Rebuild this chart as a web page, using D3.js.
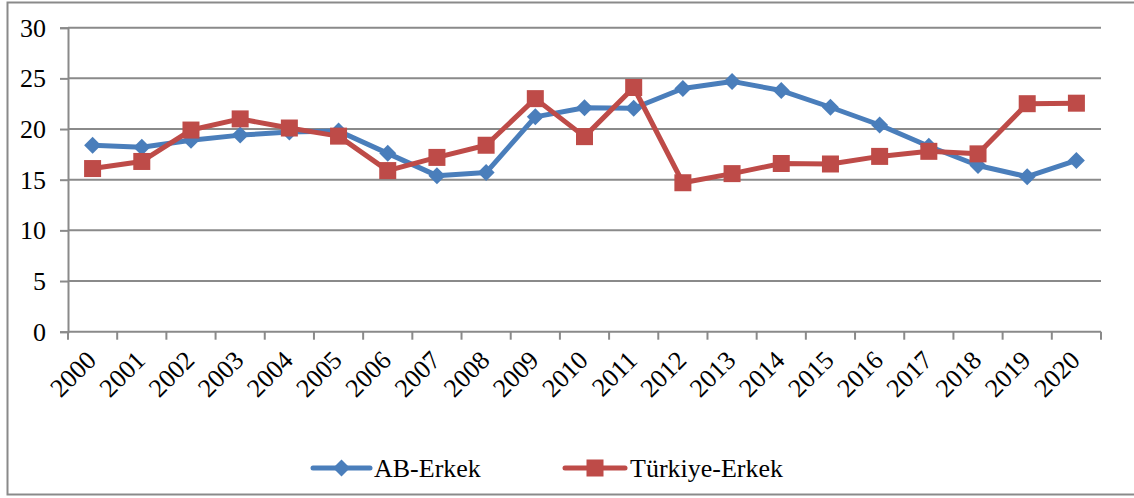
<!DOCTYPE html>
<html>
<head>
<meta charset="utf-8">
<script src="https://cdn.jsdelivr.net/npm/d3@7"></script>
<style>
  html, body { margin: 0; padding: 0; background: #ffffff; }
  svg { display: block; }
  svg text { font-family: "Liberation Serif", "Times New Roman", serif !important; fill: #000; }
</style>
</head>
<body>
<svg id="chart" width="1134" height="498"></svg>
<script>
const years = ["2000","2001","2002","2003","2004","2005","2006","2007","2008","2009","2010",
               "2011","2012","2013","2014","2015","2016","2017","2018","2019","2020"];
const abErkek = [18.4, 18.2, 18.9, 19.4, 19.7, 19.8, 17.6, 15.4, 15.7, 21.2, 22.1,
                 22.05, 24.0, 24.7, 23.8, 22.15, 20.4, 18.3, 16.4, 15.3, 16.9];
const trErkek = [16.1, 16.8, 19.9, 21.0, 20.1, 19.3, 15.9, 17.2, 18.4, 23.0, 19.25,
                 24.1, 14.7, 15.6, 16.6, 16.55, 17.3, 17.8, 17.55, 22.5, 22.55];
const yTicks = [0, 5, 10, 15, 20, 25, 30];
const seriesNames = ["AB-Erkek", "Türkiye-Erkek"];

(function () {
const svg = d3.select("#chart");
const gray = "#8a8a8a";
const serif = "'Liberation Serif', 'Times New Roman', serif";

svg.append("rect")
  .attr("x", 7.5).attr("y", 2.5).attr("width", 1140).attr("height", 492)
  .attr("fill", "none").attr("stroke", gray).attr("stroke-width", 2);

const pLeft = 68, pRight = 1101, pTop = 27.7, pBottom = 331.7;

const x = d3.scaleBand().domain(years).range([pLeft, pRight]).padding(0);
const y = d3.scaleLinear().domain([0, 30]).range([pBottom, pTop]);

svg.append("g").selectAll("line").data(yTicks.filter(d => d > 0)).join("line")
  .attr("x1", pLeft).attr("x2", pRight)
  .attr("y1", d => y(d)).attr("y2", d => y(d))
  .attr("stroke", gray).attr("stroke-width", 2);

const yAxis = svg.append("g").attr("transform", `translate(${pLeft},0)`)
  .call(d3.axisLeft(y).tickValues(yTicks).tickSize(8).tickPadding(14).tickFormat(d3.format("d")));
yAxis.attr("font-family", serif);
yAxis.select(".domain").attr("stroke", gray).attr("stroke-width", 2);
yAxis.selectAll(".tick line").attr("stroke", gray).attr("stroke-width", 2);
yAxis.selectAll(".tick text").attr("font-size", 26).attr("fill", "#000");

const xg = svg.append("g").attr("font-family", serif);
xg.append("line").attr("x1", pLeft).attr("x2", pRight).attr("y1", pBottom).attr("y2", pBottom)
  .attr("stroke", gray).attr("stroke-width", 2);
const bounds = years.map(d => x(d)).concat([x(years[years.length - 1]) + x.bandwidth()]);
xg.selectAll("line.tk").data(bounds).join("line").attr("class", "tk")
  .attr("x1", d => d).attr("x2", d => d).attr("y1", pBottom).attr("y2", pBottom + 8)
  .attr("stroke", gray).attr("stroke-width", 2);
xg.selectAll("text").data(years).join("text")
  .attr("transform", d => `translate(${x(d) + x.bandwidth() / 2 + 5},${pBottom + 30}) rotate(-45)`)
  .attr("text-anchor", "end")
  .attr("font-size", 26)
  .text(d => d);

const cx = d => x(d) + x.bandwidth() / 2;
const line = d3.line().x((d, i) => cx(years[i])).y(d => y(d));

const blue = "#4a7ebb", red = "#be4b48";
const diamond = s => `M0,${-s} L${s},0 L0,${s} L${-s},0 Z`;

svg.append("path").datum(abErkek).attr("d", line)
  .attr("fill", "none").attr("stroke", blue).attr("stroke-width", 5).attr("stroke-linejoin", "round");
svg.append("path").datum(trErkek).attr("d", line)
  .attr("fill", "none").attr("stroke", red).attr("stroke-width", 5).attr("stroke-linejoin", "round");

svg.append("g").selectAll("path").data(abErkek).join("path")
  .attr("transform", (d, i) => `translate(${cx(years[i])},${y(d)})`)
  .attr("d", diamond(8.5)).attr("fill", blue);
svg.append("g").selectAll("rect").data(trErkek).join("rect")
  .attr("x", (d, i) => cx(years[i]) - 8.5).attr("y", d => y(d) - 8.5)
  .attr("width", 17).attr("height", 17).attr("fill", red);

const ly = 468;
const lg = svg.append("g").attr("font-family", serif);
lg.append("line").attr("x1", 313).attr("x2", 370).attr("y1", ly).attr("y2", ly)
  .attr("stroke", blue).attr("stroke-width", 5).attr("stroke-linecap", "round");
lg.append("path").attr("transform", `translate(341.5,${ly})`).attr("d", diamond(8.5)).attr("fill", blue);
lg.append("text").attr("x", 374).attr("y", ly + 9).attr("font-size", 26).text(seriesNames[0]);

lg.append("line").attr("x1", 565).attr("x2", 625).attr("y1", ly).attr("y2", ly)
  .attr("stroke", red).attr("stroke-width", 5).attr("stroke-linecap", "round");
lg.append("rect").attr("x", 595 - 8.5).attr("y", ly - 8.5).attr("width", 17).attr("height", 17).attr("fill", red);
lg.append("text").attr("x", 630).attr("y", ly + 9).attr("font-size", 26).text(seriesNames[1]);
})();
</script>
</body>
</html>
